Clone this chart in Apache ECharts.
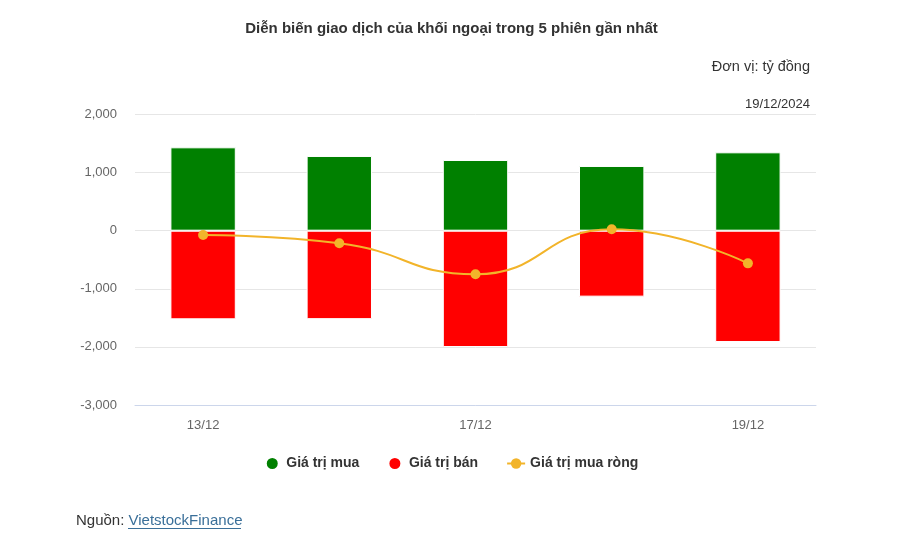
<!DOCTYPE html>
<html><head><meta charset="utf-8">
<script src="https://cdn.jsdelivr.net/npm/echarts@6/dist/echarts.min.js"></script>
<style>html,body{margin:0;padding:0;background:#fff}#c{width:903px;height:540px}</style>
</head><body><div id="c"></div>
<script>
const categories = ['13/12', '16/12', '17/12', '18/12', '19/12'];
const buyValues = [1435, 1286, 1217, 1114, 1349];
const sellValues = [-1525, -1522, -2002, -1135, -1916];
const netValues = [-74, -217, -751, 24, -562];
const yTicks = { min: -3000, max: 2000, interval: 1000 };

const chart = echarts.init(document.getElementById('c'));
const font = '"Liberation Sans", Arial, sans-serif';
chart.setOption({
  animation: false,
  textStyle: { fontFamily: font },
  title: [
    { text: 'Diễn biến giao dịch của khối ngoại trong 5 phiên gần nhất', left: 'center', top: 16,
      textStyle: { fontSize: 15, fontWeight: 'bold', color: '#333', fontFamily: font } },
    { text: 'Đơn vị: tỷ đồng', right: 88, top: 54,
      textStyle: { fontSize: 14.5, fontWeight: 'normal', color: '#333', fontFamily: font } },
    { text: '19/12/2024', right: 88, top: 93,
      textStyle: { fontSize: 13, fontWeight: 'normal', color: '#333', fontFamily: font } },
    { text: '{a|Nguồn: }{b|VietstockFinance}', left: 71, top: 508,
      textStyle: { fontWeight: 'normal', rich: {
        a: { fontSize: 15, color: '#333', fontWeight: 'normal', fontFamily: font },
        b: { fontSize: 15, color: '#3a6f99', fontWeight: 'normal', fontFamily: font } } } }
  ],
  graphic: [
    { type: 'line', shape: { x1: 128, y1: 528.5, x2: 241, y2: 528.5 }, style: { stroke: '#3a6f99', lineWidth: 1 } }
  ],
  legend: {
    bottom: 64, left: 'center', itemGap: 28, itemWidth: 18, itemHeight: 13,
    textStyle: { fontSize: 14, fontWeight: 'bold', color: '#333', fontFamily: font },
    data: [
      { name: 'Giá trị mua', icon: 'circle' },
      { name: 'Giá trị bán', icon: 'circle' },
      { name: 'Giá trị mua ròng' }
    ]
  },
  grid: { left: 135, right: 87, top: 114.5, bottom: 135, containLabel: false },
  xAxis: {
    type: 'category', data: categories,
    axisLine: { onZero: false, lineStyle: { color: '#ccd6eb' } },
    axisTick: { show: false },
    axisLabel: { interval: 1, color: '#666', fontSize: 13, margin: 14 }
  },
  yAxis: {
    type: 'value', min: yTicks.min, max: yTicks.max, interval: yTicks.interval,
    axisLine: { show: false }, axisTick: { show: false },
    axisLabel: { color: '#666', fontSize: 13, margin: 18 },
    splitLine: { lineStyle: { color: '#e6e6e6' } }
  },
  series: [
    { name: 'Giá trị mua', type: 'bar', stack: 'a', data: buyValues, barWidth: '48%',
      itemStyle: { color: '#008000', borderColor: '#fff', borderWidth: 1 } },
    { name: 'Giá trị bán', type: 'bar', stack: 'a', data: sellValues, barWidth: '48%',
      itemStyle: { color: '#ff0000', borderColor: '#fff', borderWidth: 1 } },
    { name: 'Giá trị mua ròng', type: 'line', data: netValues, smooth: true,
      symbol: 'circle', symbolSize: 10, lineStyle: { width: 2, color: '#f2b42a' },
      itemStyle: { color: '#f2b42a' } }
  ]
});
</script></body></html>
